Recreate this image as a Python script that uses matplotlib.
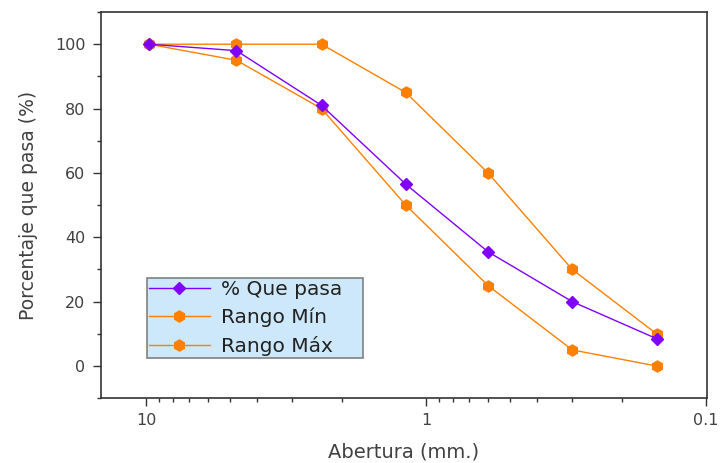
import matplotlib
matplotlib.use("Agg")
import matplotlib.pyplot as plt
from matplotlib.ticker import FixedLocator, LogLocator, NullFormatter, MultipleLocator

# Datos de granulometría
abertura = [9.75, 4.75, 2.36, 1.18, 0.6, 0.3, 0.15]
que_pasa = [100, 98, 81, 56.5, 35.5, 20, 8.5]
rango_min = [100, 95, 80, 50, 25, 5, 0]
rango_max = [100, 100, 100, 85, 60, 30, 10]

plt.rcParams["font.family"] = ["DejaVu Sans"]

fig = plt.figure(figsize=(7.2, 4.63), dpi=100)
ax = fig.add_axes([0.140, 0.140, 0.842, 0.834])

morado = "#8000FF"
naranja = "#FF8000"

ax.plot(abertura, que_pasa, color=morado, lw=1, marker="D", ms=6,
        mec=morado, mfc=morado, label="% Que pasa", zorder=3)
ax.plot(abertura, rango_min, color=naranja, lw=1, marker="h", ms=8,
        mec=naranja, mfc=naranja, label="Rango Mín", zorder=2)
ax.plot(abertura, rango_max, color=naranja, lw=1, marker="h", ms=8,
        mec=naranja, mfc=naranja, label="Rango Máx", zorder=2)

ax.set_xscale("log")
ax.set_xlim(14.5, 0.099)
ax.set_ylim(-10, 110)

ax.xaxis.set_major_locator(FixedLocator([10, 1, 0.1]))
ax.set_xticklabels(["10", "1", "0.1"])
ax.xaxis.set_minor_locator(LogLocator(base=10, subs=range(2, 10)))
ax.xaxis.set_minor_formatter(NullFormatter())
ax.yaxis.set_major_locator(MultipleLocator(20))
ax.yaxis.set_minor_locator(MultipleLocator(10))
ax.set_yticks([0, 20, 40, 60, 80, 100])

gris = "#404040"
for s in ax.spines.values():
    s.set_color("#333333")
    s.set_linewidth(1.2)
ax.tick_params(which="major", direction="out", length=6, width=1,
               labelsize=11.5, colors="#333333", labelcolor=gris, pad=5)
ax.tick_params(which="minor", direction="out", length=3, width=1,
               colors="#333333")

ax.set_xlabel("Abertura (mm.)", fontsize=14, color=gris, labelpad=10)
ax.set_ylabel("Porcentaje que pasa (%)", fontsize=13.5, color=gris, labelpad=12)

leg = ax.legend(loc="lower left", bbox_to_anchor=(0.076, 0.104, 0.356, 0.228),
                mode="expand", borderaxespad=0, fontsize=14.5, handlelength=3.0,
                fancybox=False, framealpha=1, labelspacing=0.42,
                borderpad=0.12, handletextpad=0.55)
leg.get_frame().set_facecolor("#CCE8FA")
leg.get_frame().set_edgecolor("#808080")
leg.get_frame().set_linewidth(1.2)
for t in leg.get_texts():
    t.set_color("#222222")

plt.savefig("out.png", dpi=100)
